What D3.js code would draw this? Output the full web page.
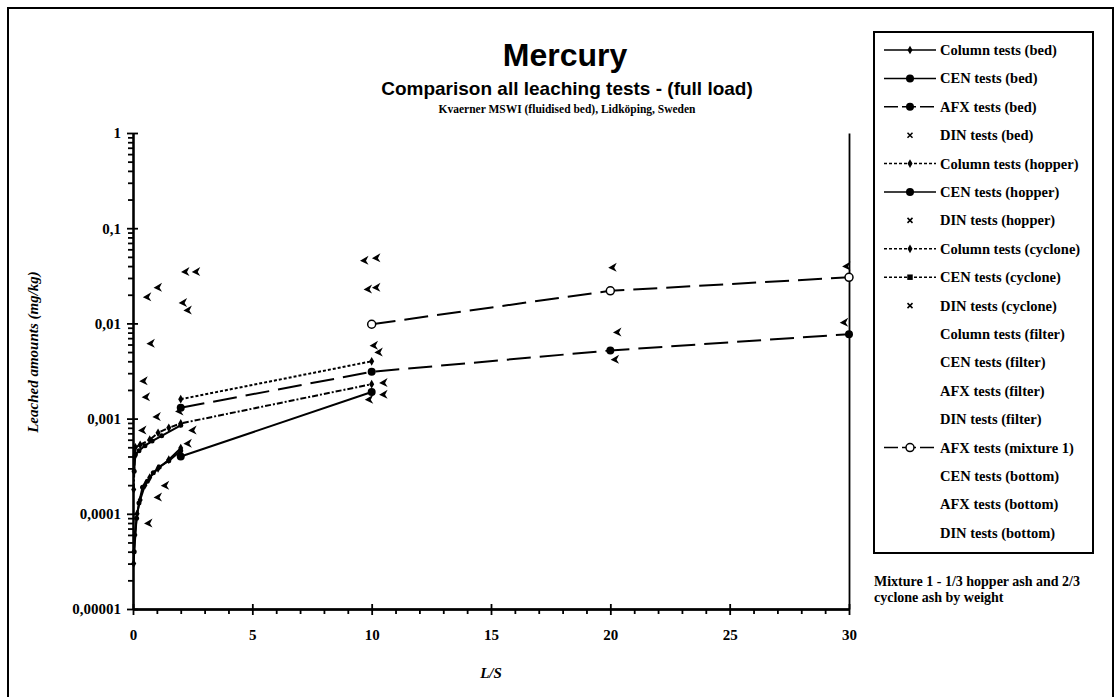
<!DOCTYPE html>
<html>
<head>
<meta charset="utf-8">
<script src="https://cdn.jsdelivr.net/npm/d3@7"></script>
<style>
body { margin: 0; background: #fff; }
text { font-family: "Liberation Serif", "Times New Roman", serif; font-weight: bold; fill: #000; }
.axis path, .axis line { stroke: #000; stroke-width: 1.8; }
.axis text { font-size: 15px; font-family: "Liberation Serif", serif; font-weight: bold; }
</style>
</head>
<body>
<svg id="chart" width="1120" height="697"></svg>
<script>
// axis ticks
var yTicks = [1e-5, 1e-4, 1e-3, 1e-2, 1e-1, 1];
var yTickLabels = ["0,00001", "0,0001", "0,001", "0,01", "0,1", "1"];
var xTicks = [0, 5, 10, 15, 20, 25, 30];

// series (L/S, mg/kg)
var colBedLS = [0.03, 0.08, 0.17, 0.3, 0.5, 0.7, 1.05, 1.5, 2];
var colBedVal = [0.00003, 0.00006, 0.0001, 0.00014, 0.0002, 0.00024, 0.0003, 0.00037, 0.00049];
var afxBedLS = [0.05, 0.15, 0.25, 0.4, 0.6, 0.85, 1.1, 1.5, 2];
var afxBedVal = [0.00004, 0.00009, 0.00013, 0.00019, 0.00022, 0.00027, 0.00031, 0.00036, 0.00046];
var cenBedLS = [2, 10];
var cenBedVal = [0.0004, 0.0019];
var colHopperLS = [0.03, 0.07, 0.1, 0.3, 0.7, 1.05, 1.5, 2, 10];
var colHopperVal = [0.00018, 0.0004, 0.0005, 0.00053, 0.0006, 0.00071, 0.0008, 0.00089, 0.0023];
var cenHopperLS = [0.05, 0.1, 0.25, 0.5, 0.8, 1.2, 2];
var cenHopperVal = [0.00028, 0.00042, 0.00046, 0.00052, 0.00058, 0.00066, 0.00085];
var colCycloneLS = [2, 10];
var colCycloneVal = [0.0016, 0.004];
var cenCycloneLS = [2, 10, 20, 30];
var cenCycloneVal = [0.0013, 0.0031, 0.0052, 0.0077];
var afxMixLS = [10, 20, 30];
var afxMixVal = [0.0098, 0.022, 0.0305];

// loose DIN points
var dinBedLS = [0.65, 1.05, 1.35, 2.3, 9.9, 10.5];
var dinBedVal = [0.00008, 0.00015, 0.0002, 0.00055, 0.0016, 0.0018];
var dinHopperLS = [0.4, 0.55, 0.45, 1.0, 1.95, 2.5, 10.5];
var dinHopperVal = [0.00076, 0.0017, 0.0025, 0.00105, 0.0012, 0.00076, 0.0024];
var dinCycloneLS = [0.75, 0.6, 1.05, 2.1, 2.3, 2.2, 2.65, 9.7, 10.2, 9.85, 10.2, 10.1, 10.3, 20.1, 20.3, 20.2, 29.9, 29.8];
var dinCycloneVal = [0.0062, 0.019, 0.024, 0.0166, 0.0138, 0.035, 0.035, 0.046, 0.049, 0.023, 0.024, 0.0059, 0.005, 0.039, 0.0081, 0.0042, 0.04, 0.0103];

var legendNames = ["Column tests (bed)", "CEN tests (bed)", "AFX tests (bed)", "DIN tests (bed)",
  "Column tests (hopper)", "CEN tests (hopper)", "DIN tests (hopper)",
  "Column tests (cyclone)", "CEN tests (cyclone)", "DIN tests (cyclone)",
  "Column tests (filter)", "CEN tests (filter)", "AFX tests (filter)", "DIN tests (filter)",
  "AFX tests (mixture 1)", "CEN tests (bottom)", "AFX tests (bottom)", "DIN tests (bottom)"];

var svg = d3.select("#chart");

// outer frame
svg.append("path").attr("d", "M8,697 L8,8 L1113,8 L1113,697")
  .attr("fill", "none").attr("stroke", "#000").attr("stroke-width", 2);

var x = d3.scaleLinear().domain([0, 30]).range([133, 849]);
var y = d3.scaleLog().domain([1e-5, 1]).range([609, 133]);

// titles
svg.append("text").attr("x", 565).attr("y", 66).attr("text-anchor", "middle")
  .style("font-family", "'Liberation Sans', Arial, sans-serif").style("font-size", "32px").text("Mercury");
svg.append("text").attr("x", 567).attr("y", 95).attr("text-anchor", "middle")
  .style("font-family", "'Liberation Sans', Arial, sans-serif").style("font-size", "19px")
  .text("Comparison all leaching tests - (full load)");
svg.append("text").attr("x", 567).attr("y", 113).attr("text-anchor", "middle")
  .style("font-size", "11.5px").text("Kvaerner MSWI (fluidised bed), Lidköping, Sweden");

// y axis: minor, major (outside + inside)
var isMajor = function(v) { var l = Math.log10(v); return Math.abs(l - Math.round(l)) < 1e-6; };
var yMinor = y.ticks().filter(function(v) { return !isMajor(v); });
svg.append("g").attr("class", "axis").attr("transform", "translate(133,0)")
  .call(d3.axisLeft(y).tickValues(yMinor).tickSize(5).tickSizeOuter(0).tickFormat(""));
svg.append("g").attr("class", "axis").attr("transform", "translate(133,0)")
  .call(d3.axisLeft(y).tickValues(yTicks).tickSize(6).tickSizeOuter(0).tickPadding(6)
    .tickFormat(function(d, i) { return yTickLabels[i]; }));
svg.append("g").attr("class", "axis").attr("transform", "translate(133,0)")
  .call(d3.axisRight(y).tickValues(yTicks).tickSize(5).tickSizeOuter(0).tickFormat(""));

// x axis
var xMinor = d3.range(1, 30).filter(function(v) { return v % 5 !== 0; });
svg.append("g").attr("class", "axis").attr("transform", "translate(0,609)")
  .call(d3.axisBottom(x).tickValues(xMinor).tickSize(5).tickSizeOuter(0).tickFormat(""));
svg.append("g").attr("class", "axis").attr("transform", "translate(0,609)")
  .call(d3.axisBottom(x).tickValues(xTicks).tickSize(6).tickSizeOuter(0).tickPadding(14));
svg.append("g").attr("class", "axis").attr("transform", "translate(0,609)")
  .call(d3.axisTop(x).tickValues(xTicks).tickSize(5).tickSizeOuter(0).tickFormat(""));

// right frame line
svg.append("g").attr("class", "axis").attr("transform", "translate(849,0)")
  .call(d3.axisRight(y).tickValues([]).tickSizeOuter(0));

// axis titles
svg.append("text").attr("transform", "translate(38,352) rotate(-90)").attr("text-anchor", "middle")
  .style("font-size", "15px").style("font-style", "italic").text("Leached amounts (mg/kg)");
svg.append("text").attr("x", 491).attr("y", 678).attr("text-anchor", "middle")
  .style("font-size", "15px").style("font-style", "italic").text("L/S");

function pts(ls, val) { return ls.map(function(d, i) { return {ls: d, v: val[i]}; }); }

var series = [
  {data: pts(colBedLS, colBedVal), dash: null, marker: "diamond"},
  {data: pts(afxBedLS, afxBedVal), dash: null, marker: "dot"},
  {data: pts(cenBedLS, cenBedVal), dash: null, marker: "circle"},
  {data: pts(colHopperLS, colHopperVal), dash: "6,2,2,2", marker: "diamond"},
  {data: pts(cenHopperLS, cenHopperVal), dash: null, marker: "dot"},
  {data: pts(colCycloneLS, colCycloneVal), dash: "3,2", marker: "diamond"},
  {data: pts(cenCycloneLS, cenCycloneVal), dash: "24,9", marker: "circle"},
  {data: pts(afxMixLS, afxMixVal), dash: "24,9", marker: "open"}
];

var line = d3.line().x(function(d) { return x(d.ls); }).y(function(d) { return y(d.v); });

function drawMarker(g, type, cx, cy) {
  if (type === "diamond") {
    g.append("path").attr("d", d3.symbol().type(d3.symbolDiamond).size(22)())
      .attr("transform", "translate(" + cx + "," + cy + ")").attr("fill", "#000");
  } else if (type === "square") {
    g.append("path").attr("d", d3.symbol().type(d3.symbolSquare).size(30)())
      .attr("transform", "translate(" + cx + "," + cy + ")").attr("fill", "#000");
  } else if (type === "dot") {
    g.append("circle").attr("cx", cx).attr("cy", cy).attr("r", 2.5).attr("fill", "#000");
  } else if (type === "circle") {
    g.append("circle").attr("cx", cx).attr("cy", cy).attr("r", 4).attr("fill", "#000");
  } else if (type === "open") {
    g.append("circle").attr("cx", cx).attr("cy", cy).attr("r", 4)
      .attr("fill", "#fff").attr("stroke", "#000").attr("stroke-width", 1.5);
  } else if (type === "cross") {
    g.append("path").attr("d", "M-2.5,-2.5L2.5,2.5M-2.5,2.5L2.5,-2.5")
      .attr("transform", "translate(" + cx + "," + cy + ")").attr("stroke", "#000").attr("stroke-width", 1.5);
  } else if (type === "chevron") {
    g.append("path").attr("d", "M4,-4.5L-4.5,0.5L4,4.5L1.5,0.5Z")
      .attr("transform", "translate(" + cx + "," + cy + ")").attr("fill", "#000");
  }
}

var plot = svg.append("g");
series.forEach(function(s) {
  plot.append("path").datum(s.data).attr("d", line)
    .attr("fill", "none").attr("stroke", "#000").attr("stroke-width", 2)
    .attr("stroke-dasharray", s.dash);
  s.data.forEach(function(d) { drawMarker(plot, s.marker, x(d.ls), y(d.v)); });
});

[pts(dinBedLS, dinBedVal), pts(dinHopperLS, dinHopperVal), pts(dinCycloneLS, dinCycloneVal)].forEach(function(set) {
  set.forEach(function(d) { drawMarker(plot, "chevron", x(d.ls), y(d.v)); });
});

// legend
var legStyle = [
  {dash: null, marker: "diamond"}, {dash: null, marker: "circle"}, {dash: "14,4", marker: "circle"}, {dash: null, marker: "cross", noLine: true},
  {dash: "3,2", marker: "diamond"}, {dash: null, marker: "circle"}, {dash: null, marker: "cross", noLine: true},
  {dash: "3,2", marker: "diamond"}, {dash: "3,2", marker: "square"}, {dash: null, marker: "cross", noLine: true},
  null, null, null, null,
  {dash: "14,4", marker: "open"}, null, null, null
];
var leg = svg.append("g");
leg.append("rect").attr("x", 874).attr("y", 32).attr("width", 219).attr("height", 521)
  .attr("fill", "#fff").attr("stroke", "#000").attr("stroke-width", 2);
legendNames.forEach(function(name, i) {
  var ly = 50 + i * 28.4;
  var st = legStyle[i];
  if (st && !st.noLine) {
    leg.append("line").attr("x1", 884).attr("x2", 936).attr("y1", ly).attr("y2", ly)
      .attr("stroke", "#000").attr("stroke-width", 1.5).attr("stroke-dasharray", st.dash);
  }
  if (st) drawMarker(leg, st.marker, 910, ly);
  leg.append("text").attr("x", 940).attr("y", ly + 5).style("font-size", "14.5px").text(name);
});

svg.append("text").attr("x", 874).attr("y", 586).style("font-size", "14px").text("Mixture 1 - 1/3 hopper ash and 2/3");
svg.append("text").attr("x", 874).attr("y", 602).style("font-size", "14px").text("cyclone ash by weight");
</script>
</body>
</html>
